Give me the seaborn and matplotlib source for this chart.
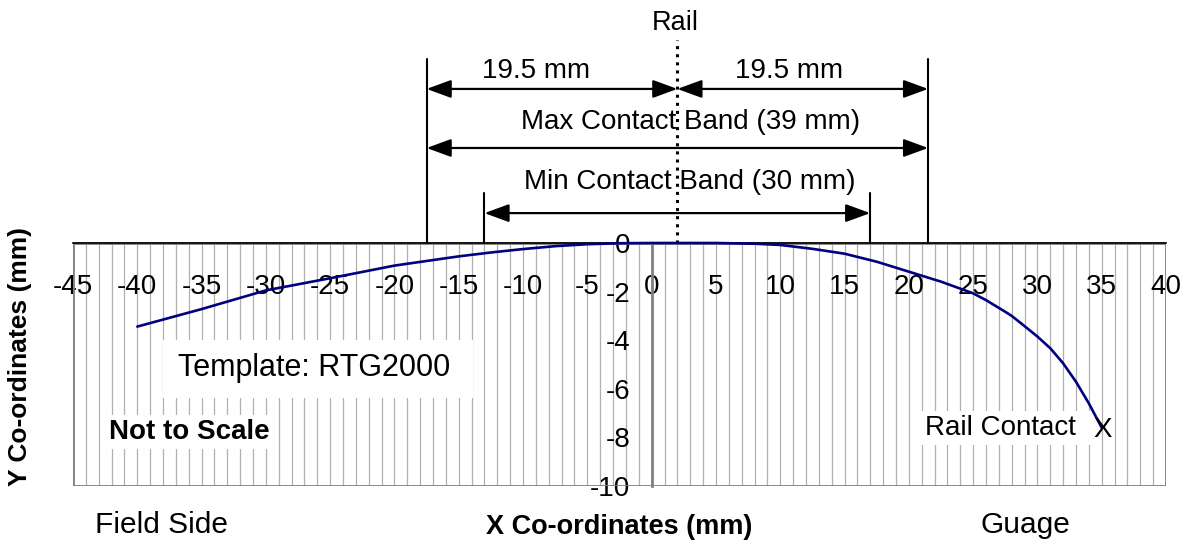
import matplotlib
matplotlib.use("Agg")
import matplotlib.pyplot as plt
from matplotlib.patches import Rectangle, FancyArrowPatch
import seaborn as sns
import pandas as pd

# profile of the template
x_mm = [-40, -35, -30, -25, -20, -15, -12.5, -10, -7.5, -5, -2.5, 0, 5, 8, 10, 12.5, 15, 17.5, 20,
        22.5, 25, 26, 27.5, 28, 29, 30, 31, 32, 33, 34, 35]
y_mm = [-3.44, -2.72, -1.95, -1.45, -0.93, -0.55, -0.39, -0.25, -0.13, -0.05, -0.01, 0, 0, -0.03, -0.08,
        -0.24, -0.44, -0.77, -1.18, -1.59, -2.07, -2.35, -2.83, -3.0, -3.42, -3.85, -4.33, -4.95, -5.71,
        -6.6, -7.6]

x_ticks = list(range(-45, 41, 5))
y_ticks = [-10, -8, -6, -4, -2, 0]

rail_x = 2
max_band = (-17.5, 21.5)
min_band = (-13, 17)

df = pd.DataFrame({"x": x_mm, "y": y_mm})

sns.set_style("white")
plt.rcParams["font.family"] = ["Liberation Sans", "DejaVu Sans"]
plt.rcParams["text.color"] = "black"

fig = plt.figure(figsize=(11.84, 5.51), dpi=100)
ax = fig.add_axes([73 / 1184, 65 / 551, (1166 - 73) / 1184, 486 / 551])
ax.set_xlim(-45, 40)
ax.set_ylim(-10, 10)

# plot area: minor vertical grid + grey border
ax.vlines(range(-44, 40), -10, 0, colors="#b0b0b0", lw=0.9, zorder=0)
ax.add_patch(Rectangle((-45, -10), 85, 10, fill=False, ec="#808080", lw=2, zorder=1))

sns.lineplot(data=df, x="x", y="y", ax=ax, color="#000080", lw=1.9, sort=False, zorder=5)

# axes through origin
for s in ["top", "right"]:
    ax.spines[s].set_visible(False)
ax.spines["bottom"].set_position(("data", 0))
ax.spines["bottom"].set_bounds(-45, 40)
ax.spines["bottom"].set_color("black")
ax.spines["bottom"].set_linewidth(1.2)
ax.spines["left"].set_position(("data", 0))
ax.spines["left"].set_bounds(-10, 0)
ax.spines["left"].set_color("#808080")
ax.spines["left"].set_linewidth(2)
ax.spines["left"].set_zorder(2)

ax.set_xticks(x_ticks)
ax.set_xticklabels([str(t) for t in x_ticks])
ax.set_yticks(y_ticks)
ax.set_yticklabels([str(t) for t in y_ticks])
ax.tick_params(axis="x", direction="inout", length=13, width=1, colors="black", labelsize=20, pad=16)
ax.tick_params(axis="y", direction="inout", length=13, width=1, colors="black", labelsize=20, pad=9)
ax.set_xlabel("")
ax.set_ylabel("")

# labels inside the plot area
ax.add_patch(Rectangle((-38, -6.38), 24.1, 2.39, fc="white", ec="none", zorder=3))
ax.text(-36.84, -5.14, "Template: RTG2000", fontsize=22, va="center", ha="left", zorder=4)
ax.text(-42.2, -7.78, "Not to Scale", fontsize=20, fontweight="bold", va="center", ha="left", zorder=4,
        bbox=dict(fc="white", ec="none", pad=3))
ax.text(21.28, -7.61, "Rail Contact  ", fontsize=20, va="center", ha="left", zorder=4,
        bbox=dict(fc="white", ec="none", pad=3))
ax.text(35.1, -7.7, "X", fontsize=20, va="center", ha="center", zorder=6)

# contact band annotations
ax.plot([rail_x, rail_x], [0, 8.35], color="black", ls=":", lw=2.2, zorder=4)
for xv in max_band:
    ax.plot([xv, xv], [0, 7.57], color="black", lw=1.5)
for xv in min_band:
    ax.plot([xv, xv], [0, 2.06], color="black", lw=1.5)


def dim_arrow(x0, x1, y):
    ax.add_patch(FancyArrowPatch((x0, y), (x1, y), arrowstyle="<|-|>,head_length=1.5,head_width=0.55",
                                 mutation_scale=10, color="black", lw=1.6, shrinkA=0, shrinkB=0))


dim_arrow(max_band[0], rail_x, 6.34)
dim_arrow(rail_x, max_band[1], 6.34)
dim_arrow(max_band[0], max_band[1], 3.91)
dim_arrow(min_band[0], min_band[1], 1.23)

ax.text(1.8, 9.05, "Rail", fontsize=19.5, ha="center", va="center")
ax.text(-9, 7.08, "19.5 mm", fontsize=20, ha="center", va="center")
ax.text(10.7, 7.08, "19.5 mm", fontsize=20, ha="center", va="center")
ax.text(3.0, 4.98, "Max Contact Band (39 mm)", fontsize=20, ha="center", va="center")
ax.text(3.0, 2.51, "Min Contact Band (30 mm)", fontsize=20, ha="center", va="center")

# texts below the chart
ax.text(-38.1, -11.6, "Field Side", fontsize=21.5, ha="center", va="center", clip_on=False)
ax.text(-2.5, -11.69, "X Co-ordinates (mm)", fontsize=19.5, fontweight="bold", ha="center", va="center",
        clip_on=False)
ax.text(29.1, -11.6, "Guage", fontsize=21.5, ha="center", va="center", clip_on=False)
fig.text(20 / 1184, 1 - 357 / 551, "Y Co-ordinates (mm)", fontsize=19, fontweight="bold",
         rotation=90, ha="center", va="center")

fig.savefig("out.png", dpi=100, facecolor="white")
